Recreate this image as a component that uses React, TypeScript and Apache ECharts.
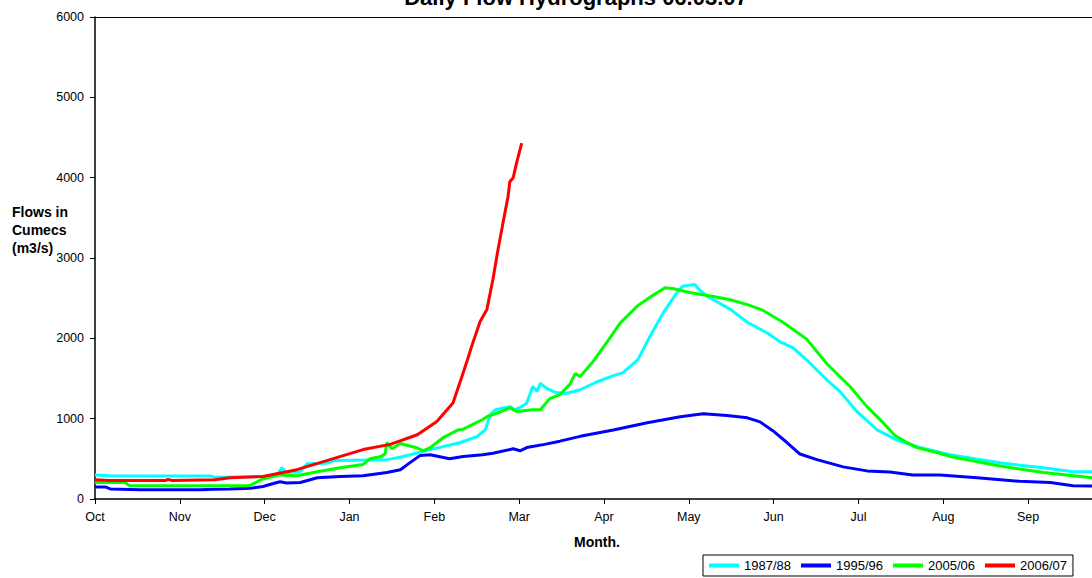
import React, { useEffect, useRef } from "react";
import * as echarts from "echarts";

// x = months since 1 October (fractional), y = flow in m3/s
const monthLabels = ["Oct", "Nov", "Dec", "Jan", "Feb", "Mar", "Apr", "May", "Jun", "Jul", "Aug", "Sep"];
const seriesNames = ["1987/88", "1995/96", "2005/06", "2006/07"];
const seriesColors = ["#00FFFF", "#0000FF", "#00FF00", "#FF0000"];

const flow1987: [number, number][] = [
  [0, 300], [0.18, 290], [1.36, 285], [1.41, 270], [1.71, 275], [2.06, 280], [2.16, 320], [2.2, 390],
  [2.26, 330], [2.42, 340], [2.5, 440], [2.73, 445], [2.83, 480], [3.44, 490], [3.6, 520], [3.95, 615],
  [4.3, 700], [4.5, 775], [4.6, 860], [4.66, 1050], [4.72, 1110], [4.89, 1150], [4.95, 1110], [5.03, 1150],
  [5.09, 1195], [5.16, 1400], [5.21, 1340], [5.25, 1440], [5.32, 1380], [5.42, 1330], [5.54, 1310],
  [5.72, 1360], [5.9, 1450], [6.11, 1535], [6.22, 1570], [6.31, 1650], [6.4, 1735], [6.54, 2020],
  [6.7, 2320], [6.86, 2570], [6.93, 2650], [7.07, 2670], [7.13, 2600], [7.22, 2520], [7.49, 2360],
  [7.69, 2200], [7.92, 2070], [8.07, 1960], [8.23, 1880], [8.43, 1690], [8.63, 1480], [8.78, 1340],
  [8.98, 1090], [9.22, 860], [9.45, 735], [9.69, 650], [9.93, 590], [10.08, 550], [10.37, 500],
  [10.67, 450], [10.9, 420], [11.18, 390], [11.38, 360], [11.53, 340], [11.75, 340], [11.96, 330],
];

const flow1995: [number, number][] = [
  [0, 150], [0.12, 150], [0.18, 125], [0.53, 115], [1.24, 115], [1.41, 120], [1.59, 125], [1.83, 135],
  [1.98, 155], [2.06, 180], [2.18, 215], [2.26, 200], [2.42, 205], [2.62, 265], [2.89, 280], [3.16, 290],
  [3.44, 330], [3.6, 365], [3.71, 450], [3.83, 540], [3.95, 550], [4.18, 500], [4.34, 530], [4.57, 550],
  [4.69, 570], [4.93, 625], [5.01, 600], [5.09, 640], [5.3, 680], [5.48, 720], [5.72, 780], [6.11, 860],
  [6.51, 950], [6.9, 1025], [7.17, 1060], [7.45, 1040], [7.69, 1010], [7.84, 960], [7.99, 850],
  [8.16, 700], [8.31, 560], [8.51, 490], [8.82, 400], [9.1, 350], [9.37, 335], [9.64, 300], [9.96, 300],
  [10.4, 265], [10.9, 220], [11.26, 205], [11.53, 165], [11.96, 160],
];

const flow2005: [number, number][] = [
  [0, 205], [0.35, 205], [0.41, 165], [1.79, 165], [1.83, 170], [1.98, 250], [2.18, 300], [2.38, 290],
  [2.62, 340], [2.89, 390], [3.16, 430], [3.24, 500], [3.36, 525], [3.42, 560], [3.44, 700], [3.5, 625],
  [3.6, 690], [3.8, 635], [3.87, 600], [3.95, 640], [4.1, 760], [4.28, 860], [4.34, 870], [4.57, 990],
  [4.62, 1025], [4.77, 1080], [4.89, 1135], [4.97, 1090], [5.16, 1110], [5.25, 1110], [5.36, 1250],
  [5.48, 1300], [5.6, 1430], [5.66, 1560], [5.72, 1525], [5.87, 1710], [6.04, 1960], [6.19, 2190],
  [6.39, 2400], [6.54, 2510], [6.72, 2630], [6.81, 2620], [7.01, 2570], [7.29, 2520], [7.49, 2480],
  [7.69, 2420], [7.87, 2350], [8.11, 2200], [8.39, 1990], [8.63, 1680], [8.9, 1400], [9.1, 1150],
  [9.29, 950], [9.43, 790], [9.55, 715], [9.69, 640], [9.93, 575], [10.08, 530], [10.67, 410],
  [11.18, 330], [11.75, 265], [11.96, 260],
];

const flow2006: [number, number][] = [
  [0, 240], [0.18, 230], [0.83, 230], [0.86, 245], [0.91, 230], [1.41, 240], [1.59, 265], [1.98, 280],
  [2.38, 365], [2.77, 490], [3.16, 615], [3.48, 680], [3.8, 800], [4.03, 965], [4.15, 1110], [4.22, 1195],
  [4.3, 1445], [4.39, 1730], [4.44, 1900], [4.54, 2210], [4.62, 2360], [4.69, 2730], [4.75, 3100],
  [4.81, 3440], [4.87, 3770], [4.89, 3950], [4.93, 4000], [4.97, 4185], [5.03, 4430],
];

const yTicks = [0, 1000, 2000, 3000, 4000, 5000, 6000];
// visible part of the month axis (the plot continues past the right edge of the picture)
const xVisibleMax = 11.753;

const FONT = "'Liberation Sans', Arial, sans-serif";

export default function App() {
  const ref = useRef<HTMLDivElement>(null);

  useEffect(() => {
    document.body.style.margin = "0";
    if (!ref.current) return;
    const chart = echarts.init(ref.current, undefined, { renderer: "svg" });
    const allData = [flow1987, flow1995, flow2005, flow2006];
    chart.setOption({
      animation: false,
      backgroundColor: "#ffffff",
      textStyle: { fontFamily: FONT },
      grid: {
        left: 95,
        top: 17,
        right: 0,
        bottom: 79,
        show: false,
      },
      xAxis: [
        {
          type: "value",
          min: 0,
          max: xVisibleMax,
          interval: 1,
          axisLine: { show: true, onZero: false, lineStyle: { color: "#000", width: 1.5 } },
          axisTick: { show: true, inside: false, length: 5, lineStyle: { color: "#000", width: 1 } },
          splitLine: { show: false },
          axisLabel: {
            color: "#000",
            fontSize: 12.5,
            fontFamily: FONT,
            margin: 11,
            showMaxLabel: false,
            formatter: (v: number) => (Number.isInteger(v) && v < 12 ? monthLabels[v] : ""),
          },
        },
        {
          type: "value",
          position: "top",
          min: 0,
          max: xVisibleMax,
          axisLine: { show: true, onZero: false, lineStyle: { color: "#000", width: 1 } },
          axisTick: { show: false },
          axisLabel: { show: false },
          splitLine: { show: false },
        },
      ],
      yAxis: {
        type: "value",
        min: yTicks[0],
        max: yTicks[yTicks.length - 1],
        interval: 1000,
        axisLine: { show: true, lineStyle: { color: "#000", width: 1.5 } },
        axisTick: { show: true, inside: false, length: 5, lineStyle: { color: "#000", width: 1 } },
        splitLine: { show: false },
        axisLabel: {
          color: "#000",
          fontSize: 12.5,
          fontFamily: FONT,
          margin: 11,
          formatter: (v: number) => String(v),
        },
      },
      legend: {
        left: 703,
        top: 555,
        orient: "horizontal",
        icon: "rect",
        itemWidth: 30,
        itemHeight: 4,
        itemGap: 10,
        padding: [4, 6, 4, 6],
        borderColor: "#000",
        borderWidth: 1,
        borderRadius: 0,
        textStyle: { color: "#000", fontSize: 13, fontFamily: FONT },
        data: seriesNames,
      },
      graphic: [
        {
          type: "text",
          style: {
            text: "Daily Flow Hydrographs 06.03.07",
            x: 576,
            y: 8,
            align: "center",
            verticalAlign: "bottom",
            font: `bold 22px ${FONT}`,
            fill: "#000",
          },
        },
        {
          type: "text",
          style: {
            text: "Flows in\nCumecs\n(m3/s)",
            x: 12,
            y: 203,
            font: `bold 14px ${FONT}`,
            lineHeight: 18,
            fill: "#000",
          },
        },
        {
          type: "text",
          style: {
            text: "Month.",
            x: 597,
            y: 542,
            align: "center",
            verticalAlign: "middle",
            font: `bold 14px ${FONT}`,
            fill: "#000",
          },
        },
      ],
      series: seriesNames.map((name, i) => ({
        name,
        type: "line",
        xAxisIndex: 0,
        data: allData[i],
        showSymbol: false,
        symbol: "none",
        lineStyle: { color: seriesColors[i], width: 3 },
        itemStyle: { color: seriesColors[i] },
        z: 2 + i,
      })),
    });
    return () => chart.dispose();
  }, []);

  return <div ref={ref} style={{ width: 1092, height: 578 }} />;
}
